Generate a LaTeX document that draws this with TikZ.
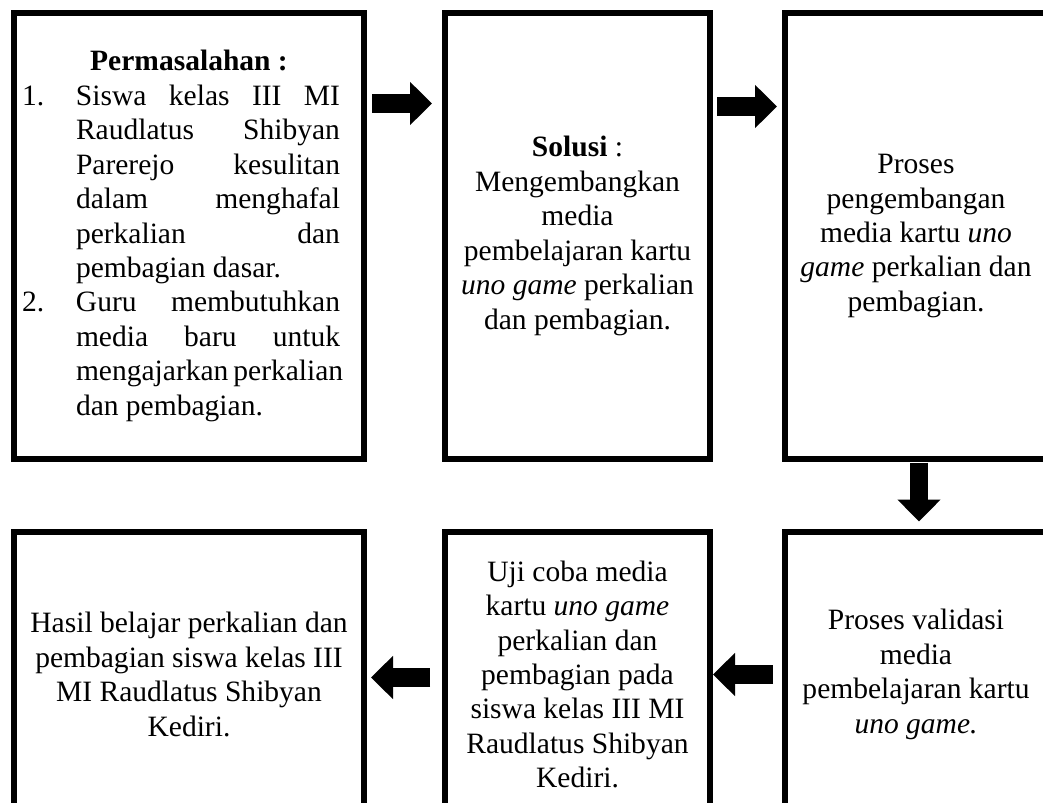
\documentclass[tikz,border=0pt]{standalone}
\usepackage{fontspec}
\setmainfont{Liberation Serif}
\usepackage{tikz}
\usetikzlibrary{positioning, arrows.meta}

\newcommand{\itemline}[2]{\makebox[8.35cm][l]{\makebox[1.35cm][l]{#1}\makebox[6.6cm][s]{#2}}}
\newcommand{\lastline}[2]{\makebox[8.35cm][l]{\makebox[1.35cm][l]{#1}#2}}

\begin{document}
\begin{tikzpicture}[
        panel/.style={draw=black, line width=0.15cm, outer sep=0pt, inner sep=0pt, align=center, text=black, font=\fontsize{21}{24.5}\selectfont},
        bigarrow/.style={line width=0.47cm, -{Triangle[width=1.05cm, length=0.55cm]}}
    ]

    \path[use as bounding box, clip] (0,0) rectangle (26.075,-20.075);

    % top row
    \node[panel, minimum width=8.75cm, minimum height=11.125cm] (b1) at (4.725,-5.9) {\textbf{Permasalahan :}\\
        \itemline{1.}{Siswa kelas III MI}\\
        \itemline{}{Raudlatus Shibyan}\\
        \itemline{}{Parerejo kesulitan}\\
        \itemline{}{dalam menghafal}\\
        \itemline{}{perkalian dan}\\
        \lastline{}{pembagian dasar.}\\
        \itemline{2.}{Guru membutuhkan}\\
        \itemline{}{media baru untuk}\\
        \itemline{}{mengajarkan perkalian}\\
        \lastline{}{dan pembagian.}};
    \node[panel, minimum width=6.625cm, minimum height=11.125cm, right=2.025cm of b1] (b2) {\textbf{Solusi} :\\Mengembangkan\\media\\pembelajaran kartu\\\textit{uno game} perkalian\\dan pembagian.};
    \node[panel, minimum width=6.55cm, minimum height=11.125cm, right=1.875cm of b2] (b3) {Proses\\pengembangan\\media kartu \textit{uno}\\\textit{game} perkalian dan\\pembagian.};

    % bottom row
    \node[panel, minimum width=6.55cm, minimum height=7.15cm, below=1.825cm of b3] (b6) {Proses validasi\\media\\pembelajaran kartu\\\textit{uno game.}};
    \node[panel, minimum width=6.625cm, minimum height=7.15cm, left=1.875cm of b6] (b5) {Uji coba media\\kartu \textit{uno game}\\perkalian dan\\pembagian pada\\siswa kelas III MI\\Raudlatus Shibyan\\Kediri.};
    \node[panel, minimum width=8.75cm, minimum height=7.15cm, left=2.025cm of b5] (b4) {Hasil belajar perkalian dan\\pembagian siswa kelas III\\MI Raudlatus Shibyan\\Kediri.};

    \draw[bigarrow] ([xshift=0.2cm, yshift=-2.25cm]b1.north east) -- ([xshift=-0.325cm, yshift=-2.25cm]b2.north west);
    \draw[bigarrow] ([xshift=0.175cm, yshift=-2.325cm]b2.north east) -- ([xshift=-0.2cm, yshift=-2.325cm]b3.north west);
    \draw[bigarrow] ([xshift=0.075cm, yshift=-0.1cm]b3.south) -- ([xshift=0.075cm, yshift=0.25cm]b6.north);
    \draw[bigarrow] ([xshift=-0.3cm]b6.west) -- ([xshift=0.075cm]b5.east);
    \draw[bigarrow] ([xshift=-0.375cm, yshift=-0.075cm]b5.west) -- ([xshift=0.175cm, yshift=-0.075cm]b4.east);

\end{tikzpicture}
\end{document}
